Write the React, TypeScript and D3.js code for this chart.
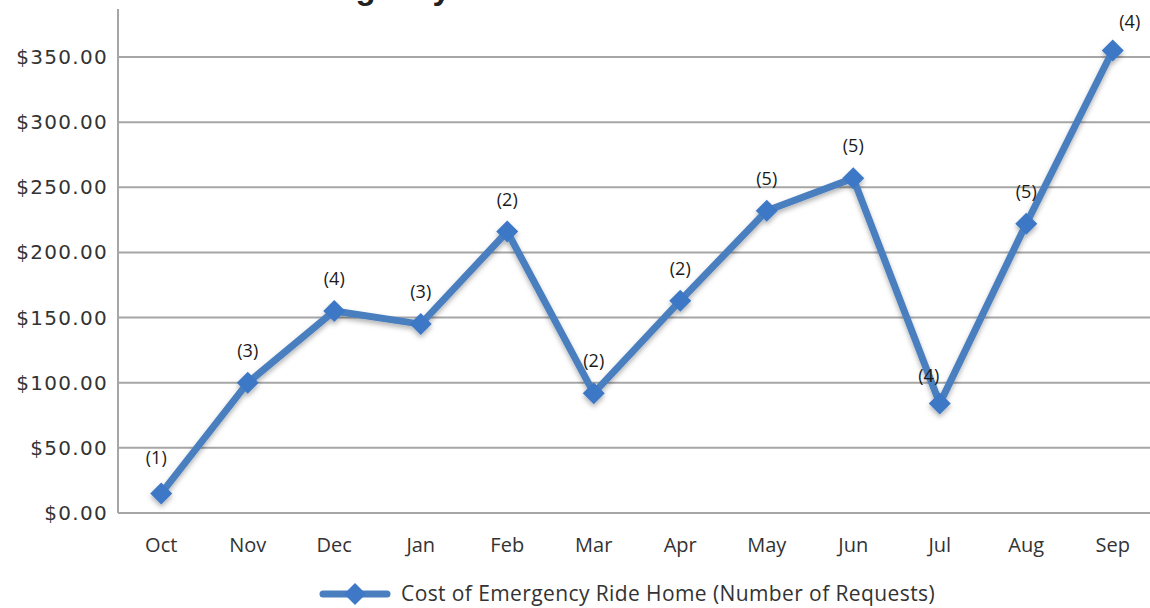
import React from "react";
import * as d3 from "d3";

const months = ["Oct", "Nov", "Dec", "Jan", "Feb", "Mar", "Apr", "May", "Jun", "Jul", "Aug", "Sep"];
const costs = [15, 100, 155, 145, 216, 92, 163, 232, 257, 84, 222, 355];
const requests = [1, 3, 4, 3, 2, 2, 2, 5, 5, 4, 5, 4];
const yTicks = [0, 50, 100, 150, 200, 250, 300, 350];
const titleText = "Emergency Ride Home";
const legendText = "Cost of Emergency Ride Home (Number of Requests)";

const W = 1150;
const H = 608;
const left = 118;
const bottom = 513;

export default function App() {
  const x = d3.scaleBand<string>().domain(months).range([left, left + 12 * 86.5]).padding(0);
  const y = d3.scaleLinear().domain([0, 350]).range([bottom, 57]);
  const cx = (m: string) => (x(m) as number) + x.bandwidth() / 2;
  const data = months.map((m, i) => ({ m, v: costs[i], n: requests[i] }));
  const line = d3
    .line<{ m: string; v: number }>()
    .x((d) => cx(d.m))
    .y((d) => y(d.v));
  const fmt = (v: number) => "$" + d3.format(".2f")(v);
  const nudge: Record<string, [number, number]> = { Sep: [17, 3], Jul: [-11, 4], Oct: [-5, -4] };
  const diamond = (px: number, py: number, r: number) =>
    `M${px},${py - r}L${px + r},${py}L${px},${py + r}L${px - r},${py}Z`;
  const blue = "#4A7EBF";
  const markerFill = "#3E78C6";

  return (
    <svg
      width={W}
      height={H}
      style={{ position: "absolute", left: 0, top: 0, display: "block", background: "#fff" }}
    >
      <defs>
        <filter id="sh" x="-10%" y="-10%" width="120%" height="130%">
          <feDropShadow dx="0" dy="3" stdDeviation="2.5" floodColor="#000" floodOpacity="0.3" />
        </filter>
      </defs>
      <text
        x={273}
        y={-1}
        fontFamily="'Liberation Sans', Arial, sans-serif"
        fontWeight="bold"
        fontSize={33}
        fill="#222"
      >
        {titleText}
      </text>
      {yTicks.map((t) => (
        <g key={t}>
          <line x1={left} x2={W} y1={y(t)} y2={y(t)} stroke="#a6a6a6" strokeWidth={2} />
          <text
            x={108}
            y={y(t)}
            dy="0.35em"
            textAnchor="end"
            fontFamily="'DejaVu Sans', sans-serif"
            fontSize={20}
            letterSpacing={1.3}
            fill="#333"
          >
            {fmt(t)}
          </text>
        </g>
      ))}
      <line x1={left} x2={left} y1={9} y2={bottom} stroke="#a6a6a6" strokeWidth={2} />
      {months.map((m) => (
        <text
          key={m}
          x={cx(m)}
          y={552}
          textAnchor="middle"
          fontFamily="'Open Sans', sans-serif"
          fontSize={20}
          fill="#333"
        >
          {m}
        </text>
      ))}
      <g filter="url(#sh)">
        <path d={line(data) || ""} fill="none" stroke={blue} strokeWidth={7} strokeLinejoin="miter" />
        {data.map((d) => (
          <path key={d.m} d={diamond(cx(d.m), y(d.v), 11)} fill={markerFill} />
        ))}
      </g>
      {data.map((d) => {
        const [dx, dy] = nudge[d.m] || [0, 0];
        return (
          <text
            key={d.m}
            x={cx(d.m) + dx}
            y={y(d.v) - 32 + dy}
            dy="0.35em"
            textAnchor="middle"
            fontFamily="'Open Sans', sans-serif"
            fontSize={18}
            fontWeight={500}
            fill="#1a1a1a"
          >
            {`(${d.n})`}
          </text>
        );
      })}
      <g>
        <line x1={323} x2={387} y1={594} y2={594} stroke={blue} strokeWidth={7} strokeLinecap="round" />
        <path d={diamond(355, 594, 11)} fill={markerFill} />
        <text
          x={401}
          y={594}
          dy="0.35em"
          fontFamily="'Open Sans', sans-serif"
          fontSize={21}
          letterSpacing={0.4}
          fill="#333"
        >
          {legendText}
        </text>
      </g>
    </svg>
  );
}
